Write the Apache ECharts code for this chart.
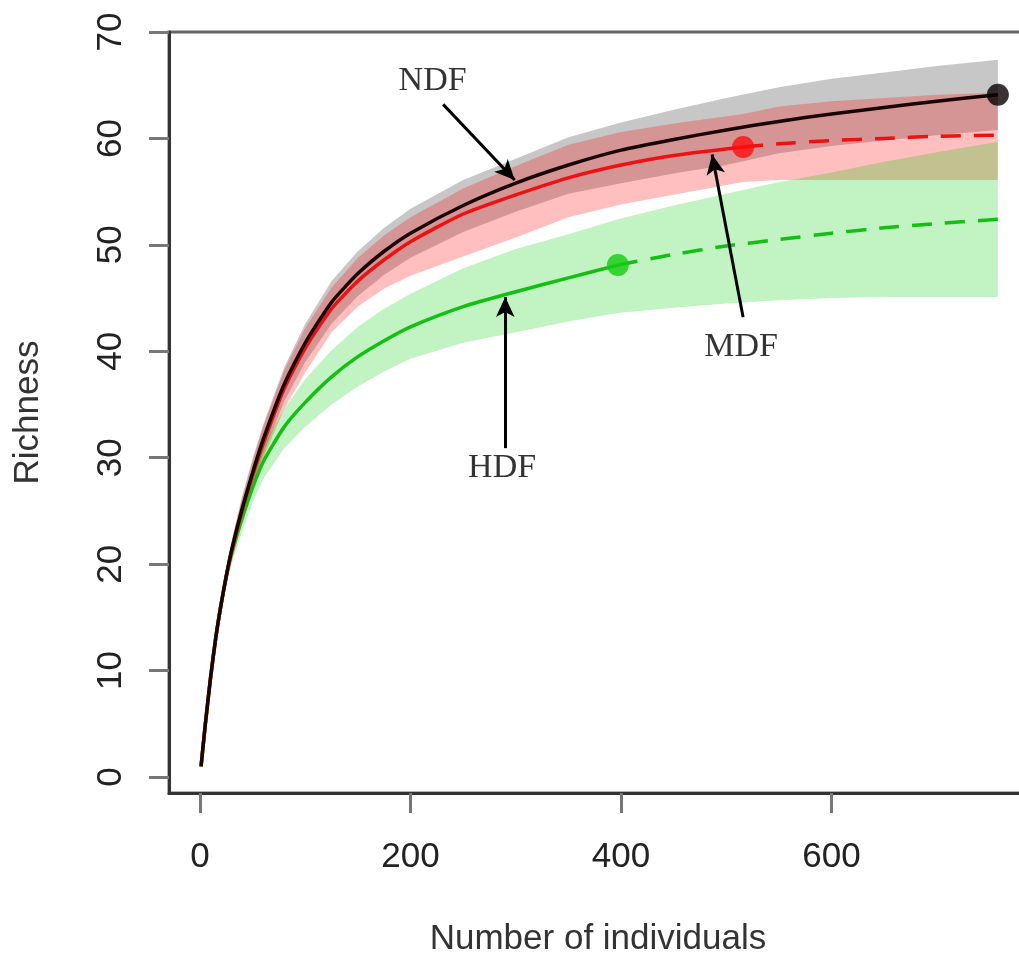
<!DOCTYPE html>
<html><head><meta charset="utf-8">
<script src="https://cdn.jsdelivr.net/npm/echarts@6/dist/echarts.min.js"></script>
<style>html,body{margin:0;padding:0;background:#fff}#c{width:1019px;height:953px}</style>
</head><body><div id="c"></div><script>
// ---- data ----
const xTicks = [0, 200, 400, 600];
const yTicks = [0, 10, 20, 30, 40, 50, 60, 70];

// NDF (black) – observed sample at 758
const ndfX  = [1,5,10,15,20,25,30,40,50,60,80,100,125,150,175,200,250,300,350,400,450,500,550,600,650,700,758];
const ndfY  = [1,4.9,9.3,13.1,16.2,18.9,21.3,25.2,28.6,31.7,36.9,40.8,44.6,47.3,49.4,51.1,53.7,55.8,57.5,58.9,59.9,60.8,61.6,62.3,62.9,63.5,64.1];
const ndfLo = [1,4.7,8.9,12.5,15.5,18.1,20.4,24.1,27.4,30.3,35.3,39.0,42.6,45.2,47.2,48.8,51.2,53.1,54.8,55.8,56.7,57.5,58.6,59.3,59.8,60.3,60.8];
const ndfHi = [1,5.1,9.7,13.7,16.9,19.7,22.2,26.4,29.9,33.1,38.5,42.6,46.6,49.4,51.6,53.4,56.1,58.1,60.1,61.5,62.7,63.8,64.8,65.6,66.2,66.8,67.4];
const ndfObs = 26;

// MDF (red) – observed sample at 516
const mdfX  = [1,5,10,15,20,25,30,40,50,60,80,100,125,150,175,200,250,300,350,400,450,516,550,600,650,700,758];
const mdfY  = [1,4.9,9.3,13.1,16.2,18.9,21.2,25.0,28.3,31.3,36.5,40.3,44.0,46.6,48.6,50.3,52.9,54.7,56.3,57.5,58.4,59.2,59.5,59.8,60.0,60.2,60.3];
const mdfLo = [1,4.7,8.9,12.5,15.5,18.0,20.2,23.9,27.0,29.9,34.6,38.0,41.8,44.2,45.9,47.1,48.9,50.7,52.6,53.8,54.7,55.9,56.1,56.1,56.1,56.1,56.1];
const mdfHi = [1,5.1,9.7,13.7,16.9,19.7,22.1,26.2,29.7,32.9,38.2,42.2,46.0,48.8,50.9,52.6,55.3,57.4,59.4,60.6,61.4,62.3,63.0,63.5,63.8,64.1,64.3];
const mdfObs = 21;

// HDF (green) – observed sample at 397
const hdfX  = [1,5,10,15,20,25,30,40,50,60,80,100,125,150,175,200,250,300,350,397,450,500,550,600,650,700,758];
const hdfY  = [1,4.9,9.3,13.1,16.2,18.9,21.0,24.3,27.2,29.6,32.9,35.2,37.6,39.5,41.0,42.3,44.2,45.6,46.9,48.1,49.1,49.9,50.5,51.1,51.6,52.0,52.4];
const hdfLo = [1,4.7,8.9,12.5,15.5,18.0,20.0,23.1,25.8,28.0,30.9,32.9,35.0,36.7,38.1,39.3,40.8,41.8,42.8,43.6,44.1,44.5,44.8,45.0,45.1,45.1,45.1];
const hdfHi = [1,5.1,9.7,13.7,16.9,19.7,22.0,25.5,28.6,31.1,34.6,37.4,40.1,42.3,44.0,45.4,47.8,49.6,51.0,52.4,53.7,54.8,55.9,56.8,57.8,58.7,59.7];
const hdfObs = 19;

// annotations: label positions and arrows [x1,y1,x2,y2] (tail -> tip)
const labelNames = ['NDF', 'MDF', 'HDF'];
const labelPos   = [[221, 65.4], [514, 40.4], [287, 29.0]];
const arrows     = [[231, 63.2, 299, 56.1], [516, 43.2, 486.5, 58.5], [290, 30.9, 290, 45.1]];

// ---- chart ----
const pairs = (x, y, a, b) => x.slice(a, b + 1).map((v, i) => [v, y[a + i]]);

function band(x, lo, hi, fill) {
  return {
    type: 'custom', silent: true, z: 1,
    renderItem: (params, api) => {
      const pts = [];
      for (let i = 0; i < x.length; i++) pts.push(api.coord([x[i], hi[i]]));
      for (let i = x.length - 1; i >= 0; i--) pts.push(api.coord([x[i], lo[i]]));
      return { type: 'polygon', shape: { points: pts }, style: { fill: fill } };
    },
    encode: { x: 0, y: 1 },
    data: [[x[0], lo[0]]]
  };
}
function line(x, y, a, b, color, dashed) {
  return {
    type: 'line', z: 3, silent: true, symbol: 'none', smooth: 0.2,
    data: pairs(x, y, a, b),
    lineStyle: { color: color, width: 3.5, type: dashed ? [20, 13] : 'solid', join: 'round', cap: 'butt' }
  };
}
function dot(x, y, i, color) {
  return { type: 'scatter', z: 4, silent: true, symbol: 'circle', symbolSize: 22,
           itemStyle: { color: color }, data: [[x[i], y[i]]] };
}

const FONT = 'Liberation Sans';
const chart = echarts.init(document.getElementById('c'), null, { renderer: 'canvas' });
chart.setOption({
  animation: false,
  backgroundColor: '#fff',
  grid: { left: 169, top: 32, width: 858, height: 761, show: true, borderColor: '#666', borderWidth: 3,
          containLabel: false, outerBoundsMode: 'none' },
  xAxis: {
    type: 'value', min: -29.45, max: 785.7,
    axisLine: { show: true, onZero: false, lineStyle: { color: '#333', width: 3 } },
    axisTick: { show: true, length: 20, customValues: xTicks, lineStyle: { color: '#777', width: 3 } },
    axisLabel: { customValues: xTicks, margin: 47, fontFamily: FONT, fontSize: 35, color: '#222' },
    splitLine: { show: false },
    name: 'Number of individuals', nameLocation: 'middle', nameGap: 129,
    nameTextStyle: { fontFamily: FONT, fontSize: 35, color: '#333' }
  },
  yAxis: {
    type: 'value', min: -1.5, max: 70,
    axisLine: { show: true, onZero: false, lineStyle: { color: '#333', width: 3 } },
    axisTick: { show: true, length: 20, customValues: yTicks, lineStyle: { color: '#777', width: 3 } },
    axisLabel: { customValues: yTicks, margin: 40, rotate: 90, fontFamily: FONT, fontSize: 35, color: '#222' },
    splitLine: { show: false },
    name: 'Richness', nameLocation: 'middle', nameGap: 123,
    nameTextStyle: { fontFamily: FONT, fontSize: 35, color: '#333' }
  },
  series: [
    band(ndfX, ndfLo, ndfHi, 'rgba(0,0,0,0.22)'),
    band(mdfX, mdfLo, mdfHi, 'rgba(255,0,0,0.25)'),
    band(hdfX, hdfLo, hdfHi, 'rgba(0,205,0,0.24)'),
    line(hdfX, hdfY, 0, hdfObs, '#12c012', false),
    line(hdfX, hdfY, hdfObs, hdfX.length - 1, '#12c012', true),
    line(mdfX, mdfY, 0, mdfObs, '#ee1111', false),
    line(mdfX, mdfY, mdfObs, mdfX.length - 1, '#ee1111', true),
    line(ndfX, ndfY, 0, ndfObs, '#1a0505', false),
    dot(hdfX, hdfY, hdfObs, '#12cc12'),
    dot(mdfX, mdfY, mdfObs, '#ff0d0d'),
    dot(ndfX, ndfY, ndfObs, '#0a0000'),
    {
      type: 'scatter', z: 5, silent: true, symbol: 'circle', symbolSize: 1,
      itemStyle: { color: 'rgba(0,0,0,0)' },
      data: labelNames.map((n, i) => ({ name: n, value: labelPos[i] })),
      label: { show: true, position: 'inside', formatter: '{b}', fontFamily: 'Liberation Serif', fontSize: 34, color: '#000' },
      markLine: {
        silent: true, animation: false, symbol: ['none', 'arrow'], symbolSize: [14, 20],
        lineStyle: { color: '#000', width: 3, type: 'solid' }, label: { show: false },
        data: arrows.map(a => [{ coord: [a[0], a[1]] }, { coord: [a[2], a[3]] }])
      }
    }
  ]
});
</script></body></html>
